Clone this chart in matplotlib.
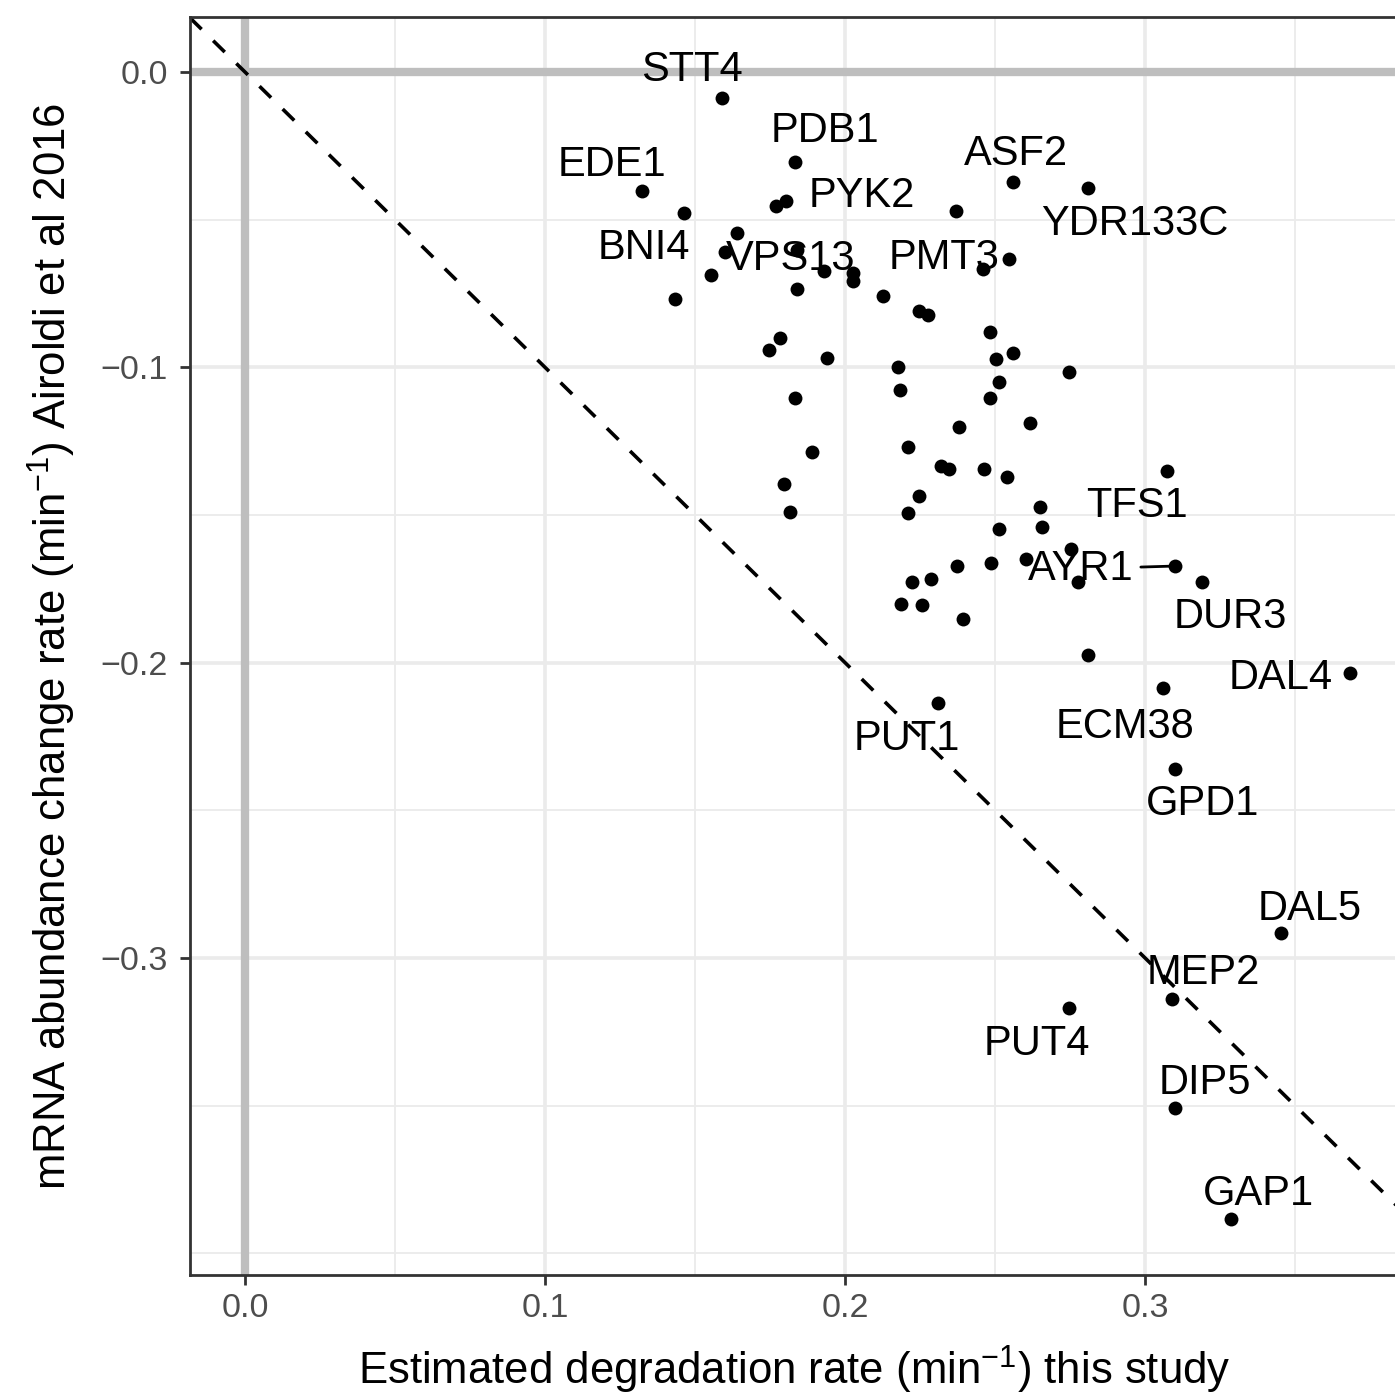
import numpy as np
import matplotlib
matplotlib.use("Agg")
import matplotlib.pyplot as plt

plt.rcParams['font.family'] = ['Liberation Sans', 'DejaVu Sans']
plt.rcParams['mathtext.fontset'] = 'custom'
plt.rcParams['mathtext.rm'] = 'Liberation Sans'
plt.rcParams['mathtext.it'] = 'Liberation Sans'

# unlabelled genes: degradation rate (this study) vs abundance change rate (Airoldi 2016)
deg_rate = [0.1770, 0.2369, 0.1641, 0.1600, 0.1552, 0.1433, 0.1930, 0.2028, 0.2028,
            0.1839, 0.2128, 0.2248, 0.2278, 0.2461, 0.2483, 0.2559, 0.2502, 0.1783,
            0.1748, 0.1941, 0.2178, 0.2183, 0.2514, 0.2483, 0.1833, 0.2747, 0.2617,
            0.2380, 0.1891, 0.2211, 0.2320, 0.2348, 0.2464, 0.2539, 0.1798, 0.2248,
            0.1817, 0.2211, 0.2650, 0.2657, 0.2514, 0.2752, 0.2603, 0.2486, 0.2372,
            0.2776, 0.2287, 0.2223, 0.2186, 0.2258, 0.2394, 0.2809]
abund_rate = [-0.0453, -0.0471, -0.0544, -0.0610, -0.0686, -0.0768, -0.0673, -0.0682, -0.0707,
              -0.0734, -0.0759, -0.0808, -0.0823, -0.0668, -0.0879, -0.0950, -0.0972, -0.0902,
              -0.0941, -0.0970, -0.1000, -0.1077, -0.1049, -0.1105, -0.1105, -0.1016, -0.1190,
              -0.1201, -0.1287, -0.1271, -0.1333, -0.1344, -0.1344, -0.1370, -0.1396, -0.1435,
              -0.1489, -0.1492, -0.1472, -0.1542, -0.1549, -0.1615, -0.1649, -0.1664, -0.1672,
              -0.1728, -0.1718, -0.1728, -0.1800, -0.1805, -0.1853, -0.1974]

# labelled genes
genes = ['STT4', 'PDB1', 'EDE1', 'ASF2', 'YDR133C', 'PYK2', 'BNI4', 'VPS13', 'PMT3',
         'TFS1', 'AYR1', 'DUR3', 'DAL4', 'PUT1', 'ECM38', 'GPD1', 'DAL5', 'MEP2',
         'PUT4', 'DIP5', 'GAP1']
gene_deg = [0.1590, 0.1834, 0.1322, 0.2559, 0.2810, 0.1803, 0.1463, 0.1839, 0.2548,
            0.3074, 0.3100, 0.3191, 0.3683, 0.2310, 0.3059, 0.3099, 0.3452, 0.3089,
            0.2748, 0.3100, 0.3287]
gene_abund = [-0.0088, -0.0304, -0.0402, -0.0374, -0.0393, -0.0436, -0.0476, -0.0603, -0.0634,
              -0.1351, -0.1673, -0.1726, -0.2036, -0.2136, -0.2086, -0.2359, -0.2917, -0.3140,
              -0.3170, -0.3509, -0.3885]

# where the repelled labels ended up (centre of the capitals)
label_x = [0.1490, 0.1933, 0.1223, 0.2570, 0.2967, 0.2057, 0.1330, 0.1817, 0.2330,
           0.2973, 0.2787, 0.3283, 0.3453, 0.2207, 0.2933, 0.3193, 0.3550, 0.3193,
           0.2640, 0.3200, 0.3377]
label_y = [0.0020, -0.0186, -0.0301, -0.0264, -0.0501, -0.0406, -0.0582, -0.0620, -0.0616,
           -0.1456, -0.1669, -0.1832, -0.2039, -0.2245, -0.2205, -0.2465, -0.2821, -0.3038,
           -0.3278, -0.3410, -0.3786]

W, H = 1395, 1397
fig = plt.figure(figsize=(W / 100, H / 100), dpi=100)
ax = fig.add_axes([190 / W, 1 - 1275 / H, (1398 - 190) / W, (1275 - 17) / H])

ax.set_xlim((190 - 245) / 3000, (1398 - 245) / 3000)
ax.set_ylim(-(1275 - 72) / 2953, (72 - 17) / 2953)

# theme_bw style grid
ax.set_xticks([0.0, 0.1, 0.2, 0.3])
ax.set_yticks([0.0, -0.1, -0.2, -0.3])
ax.set_xticks([0.05, 0.15, 0.25, 0.35], minor=True)
ax.set_yticks([-0.05, -0.15, -0.25, -0.35, -0.4], minor=True)
ax.set_xticklabels(['0.0', '0.1', '0.2', '0.3'])
ax.set_yticklabels(['0.0', '\u22120.1', '\u22120.2', '\u22120.3'])
ax.grid(which='major', color='#EBEBEB', lw=2.6, zorder=0)
ax.grid(which='minor', color='#EBEBEB', lw=1.3, zorder=0)
ax.set_axisbelow(True)
ax.tick_params(which='major', length=7, width=2, color='#333333',
               labelsize=24.5, labelcolor='#4D4D4D')
ax.tick_params(axis='y', which='major', pad=9)
ax.tick_params(axis='x', which='major', pad=6)
ax.tick_params(which='minor', length=0)
for s in ax.spines.values():
    s.set_color('#333333')
    s.set_linewidth(2)

ax.axhline(0, color='#BEBEBE', lw=6, zorder=1)
ax.axvline(0, color='#BEBEBE', lw=6, zorder=1)
ax.axline((0, 0), slope=-1, color='black', lw=2.6, ls=(0, (4.5, 4.5)), zorder=2)

ax.scatter(deg_rate, abund_rate, s=100, color='black', lw=0, zorder=3)
ax.scatter(gene_deg, gene_abund, s=100, color='black', lw=0, zorder=3)

cap_half = 15 / 2953
for g, px, py, lx, ly in zip(genes, gene_deg, gene_abund, label_x, label_y):
    if g == 'AYR1':
        ax.annotate(g, xy=(px, py), xytext=(lx, ly - cap_half), ha='center', va='baseline',
                    fontsize=30, zorder=4,
                    arrowprops=dict(arrowstyle='-', color='black', lw=2, shrinkA=3, shrinkB=0))
    else:
        ax.text(lx, ly - cap_half, g, ha='center', va='baseline', fontsize=30, zorder=4)

ax.set_xlabel('Estimated degradation rate (min$^{-1}$) this study', fontsize=31.5, labelpad=14)
ax.set_ylabel('mRNA abundance change rate (min$^{-1}$) Airoldi et al 2016', fontsize=31.5, labelpad=16)

fig.savefig('out.png', dpi=100)
